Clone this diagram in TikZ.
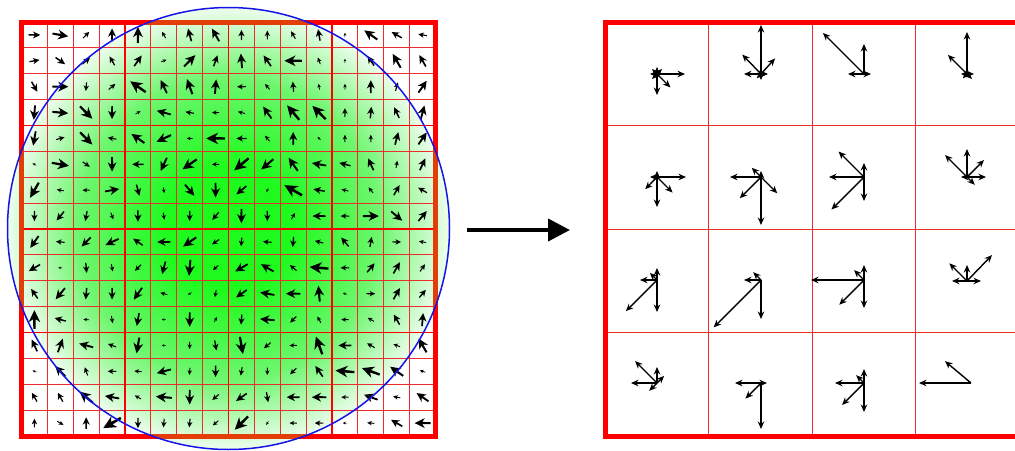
\documentclass[tikz,border=0pt]{standalone}
\usetikzlibrary{arrows.meta}
\definecolor{gridred}{RGB}{235,45,45}
\definecolor{borderred}{RGB}{255,0,0}
\definecolor{borderin}{RGB}{228,62,8}
\definecolor{gcenter}{RGB}{30,250,30}
\definecolor{gmid}{RGB}{110,246,110}
\definecolor{gedge}{RGB}{238,253,238}
\definecolor{circblue}{RGB}{20,20,230}
\pgfdeclareradialshading{greenglow}{\pgfpoint{0bp}{0bp}}{color(0bp)=(gcenter); color(7bp)=(gcenter); color(17bp)=(gmid); color(25bp)=(gedge); color(50bp)=(gedge)}
\newcommand\gvec[4]{%
  \fill[shift={(21.5+25.875*#1+12.94,22+25.875*#2+12.94)},rotate={-#3},scale=#4]
    (0.5,0) -- (-0.14,0.31) -- (0.02,0.07) -- (-0.5,0.06) -- (-0.5,-0.06) -- (0.02,-0.07) -- (-0.14,-0.31) -- cycle;}
\tikzset{
  thingrid/.style={gridred,line width=0.9pt},
  thickgrid/.style={borderred,line width=1.7pt},
  frame/.style={borderred,line width=5pt},
  hgrid/.style={gridred,line width=0.9pt},
  hvec/.style={black,line width=1.4pt,-{Stealth[length=7.5pt,width=6.5pt]}},
  bigarrow/.style={black,line width=4pt,-{Triangle[length=22pt,width=22pt]}},
  circ/.style={circblue,line width=1.5pt}
}
\begin{document}
\begin{tikzpicture}[x=1pt,y=-1pt]
\useasboundingbox[fill=white] (0,0) rectangle (1015,450);
% ---- left panel ----
\coordinate (cc) at (228.5,228.5);
\shade[shading=greenglow] (cc) circle (221);
\foreach \i in {1,...,15} {
  \draw[thingrid] (21.5+25.875*\i,22) -- ++(0,414);
  \draw[thingrid] (21.5,22+25.875*\i) -- ++(414,0);
}
\foreach \i in {4,8,12} {
  \draw[thickgrid] (21.5+25.875*\i,22) -- ++(0,414);
  \draw[thickgrid] (21.5,22+25.875*\i) -- ++(414,0);
}
\draw[frame] (21.5,22) rectangle (435.5,436);
\begin{scope}
  \clip (cc) circle (221);
  \draw[frame,borderin] (21.5,22) rectangle (435.5,436);
\end{scope}
\foreach \r/\lst in {
 0/{0/8,10/11,315/6,270/9,270/11,240/5,255/9,240/10,270/7,270/6,240/6,260/8,270/3,215/11,210/8,190/6},
 1/{350/7,35/8,320/7,240/7,305/9,340/4,315/11,290/8,265/10,235/9,180/12,250/5,270/3,235/8,240/11,240/9},
 2/{60/8,0/11,95/6,320/6,215/13,245/10,250/11,275/10,180/6,230/5,265/7,260/4,270/4,270/9,285/6,305/10},
 3/{95/10,5/11,45/12,90/9,330/4,195/10,190/6,180/5,195/5,235/10,230/13,225/13,270/6,275/8,245/8,285/10},
 4/{100/10,345/6,45/12,190/6,215/11,155/11,180/4,180/13,180/7,230/5,270/9,225/3,270/5,270/5,285/9,305/10},
 5/{210/3,10/12,35/6,90/10,180/8,115/10,145/12,180/5,140/13,140/11,235/11,190/10,195/8,245/9,280/5,295/9},
 6/{120/12,190/5,180/5,350/10,75/8,80/4,50/10,90/10,140/9,120/3,210/14,190/8,195/5,230/5,300/8,210/7},
 7/{90/7,130/8,100/7,70/5,90/8,80/5,90/7,130/7,90/10,90/7,300/5,180/9,180/6,0/11,40/10,310/9},
 8/{125/10,185/6,135/9,155/10,215/8,180/9,145/11,145/6,95/6,185/6,95/7,195/6,230/8,280/7,0/6,190/5},
 9/{150/9,180/3,85/7,80/5,135/6,105/9,95/11,140/5,150/10,210/10,220/6,185/13,180/6,310/8,300/9,305/6},
 10/{235/8,130/10,95/8,90/8,125/10,195/5,150/3,100/5,145/9,190/10,180/10,265/11,200/3,0/6,300/9,310/7},
 11/{270/13,195/8,185/4,80/5,100/9,180/3,90/10,300/4,95/7,185/10,135/6,240/5,180/5,210/5,240/8,275/9},
 12/{245/9,290/10,195/10,200/6,100/11,180/3,90/5,80/7,80/12,140/6,180/5,250/13,180/9,210/6,200/5,240/11},
 13/{200/3,225/10,250/6,180/6,185/5,165/10,95/5,90/8,100/6,90/5,135/6,235/9,185/13,200/13,215/11,200/4},
 14/{240/7,240/7,220/12,190/10,210/5,185/11,90/10,140/6,145/9,80/7,180/9,180/10,180/5,200/10,190/5,215/10},
 15/{270/6,30/5,270/8,150/14,90/7,95/6,95/6,140/5,135/13,120/3,180/5,180/6,180/3,185/5,210/9,180/11}} {
  \foreach \a/\l [count=\c from 0] in \lst { \gvec{\c}{\r}{\a}{1.45*\l} }
}
\draw[circ] (cc) circle (221);
% ---- arrow ----
\coordinate (arrowstart) at (467,230);
\coordinate (arrowend) at (570,230);
\draw[bigarrow] (arrowstart) -- (arrowend);
% ---- right panel ----
\foreach \i in {1,2,3} {
  \draw[hgrid] (605+103.5*\i,22) -- ++(0,414);
  \draw[hgrid] (605,22+103.5*\i) -- ++(414,0);
}
\draw[frame] (605,22) rectangle (1019,436);
\coordinate (h00) at (657,74);  \coordinate (h10) at (761,74);
\coordinate (h20) at (864,74);  \coordinate (h30) at (967,74);
\coordinate (h01) at (657,177); \coordinate (h11) at (761,177);
\coordinate (h21) at (864,177); \coordinate (h31) at (967,177);
\coordinate (h02) at (657,280); \coordinate (h12) at (761,280);
\coordinate (h22) at (864,280); \coordinate (h32) at (967,281);
\coordinate (h03) at (657,383); \coordinate (h13) at (761,383);
\coordinate (h23) at (864,383); \coordinate (h33) at (971,383);
\foreach \p/\lst in {
 h00/{0/28,90/21,45/19,270/7,225/7,180/7,135/7,315/7},
 h10/{270/49,226/27,312/21,180/17,0/7,135/6,90/6},
 h20/{225/58,270/30,180/16,0/7},
 h30/{270/42,225/27,45/7,0/7,180/6,135/6},
 h01/{0/29,90/30,45/22,134/17,180/7,270/6},
 h11/{180/31,90/48,135/30,45/23,225/13,270/6},
 h21/{180/35,225/36,135/46,270/14,90/24},
 h31/{270/28,225/31,315/24,0/19,45/11,180/6},
 h02/{135/44,90/32,180/17,270/12,225/10},
 h12/{135/67,90/39,180/17,225/11},
 h03/{225/31,180/26,270/16,135/11,315/10},
 h13/{180/26,90/46,135/22,0/6},
 h22/{180/53,135/35,90/28,270/15,225/14},
 h32/{314/36,225/25,270/16,0/14,180/15},
 h23/{180/29,90/29,135/31,270/14,225/11},
 h33/{180/52,220/34}} {
  \foreach \a/\l in \lst { \draw[hvec] (\p) -- ++(\a:\l); }
}
\end{tikzpicture}
\end{document}
